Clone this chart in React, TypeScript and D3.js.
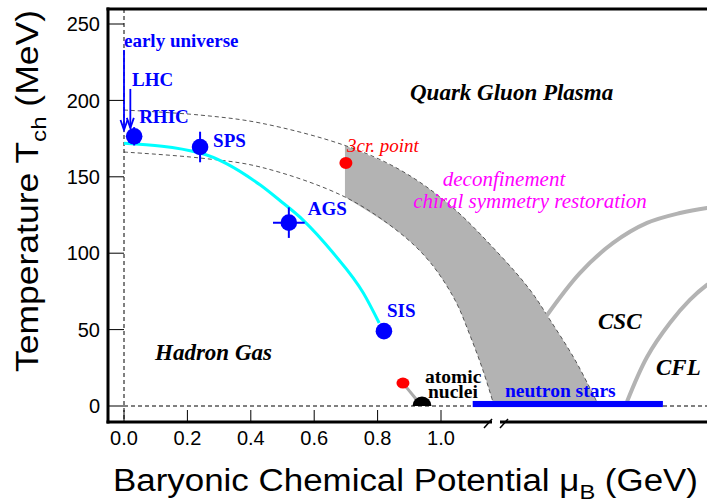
import React from "react";
import * as d3 from "d3";

// ---------- data ----------
const yTicks = [0, 50, 100, 150, 200, 250];
const xTicks = [0, 0.2, 0.4, 0.6, 0.8, 1.0];
const xTickLabels = ["0.0", "0.2", "0.4", "0.6", "0.8", "1.0"];

// chemical freeze-out curve
const freezeoutMu = [0, 0.24, 0.43, 0.49, 0.565, 0.66, 0.755, 0.805];
const freezeoutT = [172, 165.6, 144.6, 134.8, 121.7, 100.1, 73.9, 54.3];

// experiments
const expNames = ["RHIC", "SPS", "AGS", "SIS"];
const expMu = [0.032, 0.24, 0.52, 0.82];
const expT = [176.5, 169.5, 120, 49];
const expErrT = [6, 10, 10, 0];
const expErrMu = [0, 0, 0.05, 0];

// phase boundary band (upper / lower)
const upperMu = [0, 0.24, 0.43, 0.697, 0.871, 1.028, 1.186, 1.281, 1.344, 1.423, 1.492];
const upperT = [193.7, 190.4, 185.2, 170.5, 154.5, 131.5, 98.8, 75.9, 56.3, 30.1, 2.6];
const lowerMu = [0, 0.24, 0.43, 0.697, 0.871, 0.965, 1.044, 1.091, 1.132, 1.164];
const lowerT = [166.2, 162.3, 156.4, 136.8, 113.2, 94.2, 69.4, 46.5, 23.6, 2.6];
const bandStartIndex = 3;

// critical point
const critMu = 0.7;
const critT = 159;

// colour-superconducting boundaries
const cscMu = [1.328, 1.438, 1.543, 1.65, 1.754, 1.839, 1.9];
const cscT = [57.6, 87.0, 106.7, 119.8, 126.3, 129.6, 131];
const cflMu = [1.587, 1.65, 1.722, 1.785, 1.839, 1.9];
const cflT = [3, 32.1, 54.3, 69.4, 79.2, 87];

// atomic nuclei / neutron stars
const nucleiMu = 0.94;
const nucleiRedMu = 0.88;
const nucleiRedT = 15;
const neutronStarMu = [1.1, 1.7];

// arrows: early universe and LHC
const arrowMu = [0, 0.02];
const arrowTopT = [233, 207.5];
const arrowTipT = [180.6, 182];

const sans = "'Liberation Sans', Arial, Helvetica, sans-serif";
const serif = "'Liberation Serif', 'Times New Roman', Times, serif";

type P = [number, number];
const zip = (a: number[], b: number[]): P[] => a.map((v, i) => [v, b[i]] as P);

export default function App() {
  const x = d3.scaleLinear().domain([0, 1]).range([124, 441]);
  const y = d3.scaleLinear().domain([0, 250]).range([406, 24]);
  const line = d3
    .line<P>()
    .x((d) => x(d[0]))
    .y((d) => y(d[1]))
    .curve(d3.curveCatmullRom.alpha(0.5));

  const upper = zip(upperMu, upperT);
  const lower = zip(lowerMu, lowerT);
  const upperSeg = upper.slice(bandStartIndex);
  const lowerSegRev = lower.slice(bandStartIndex).reverse();
  const bandPath =
    (line(upperSeg) as string) + "L" + (line(lowerSegRev) as string).slice(1) + "Z";

  const left = 108;
  const top = 9;
  const bottom = 422;
  const right = 707;
  const breakX = 492;
  const breakX2 = 500;

  const labelDx = [5, 13, 19, 3];
  const labelDy = [-13, 0, -8, -14];

  const nsY0 = y(3.3);
  const nsY1 = y(-0.7);

  return (
    <svg
      width={707}
      height={502}
      style={{ position: "absolute", left: 0, top: 0, background: "#fff" }}
    >
      <rect x={0} y={0} width={707} height={502} fill="#fff" />

      {/* gray band */}
      <path d={bandPath} fill="#b3b3b3" stroke="none" />
      {/* dashed boundaries */}
      <path d={line(upper) as string} fill="none" stroke="#555" strokeWidth={1} strokeDasharray="4,3" />
      <path d={line(lower) as string} fill="none" stroke="#555" strokeWidth={1} strokeDasharray="4,3" />

      {/* CSC / CFL lines */}
      <path d={line(zip(cscMu, cscT)) as string} fill="none" stroke="#b3b3b3" strokeWidth={4} />
      <path d={line(zip(cflMu, cflT)) as string} fill="none" stroke="#b3b3b3" strokeWidth={4} />

      {/* reference dashed lines */}
      <line x1={x(0)} x2={x(0)} y1={top} y2={bottom} stroke="#000" strokeWidth={1} strokeDasharray="4,3" />
      <line x1={x(0)} x2={right} y1={y(0)} y2={y(0)} stroke="#000" strokeWidth={1} strokeDasharray="4,3" />

      {/* freeze-out curve */}
      <path
        d={d3.line<P>().x((d) => x(d[0])).y((d) => y(d[1])).curve(d3.curveMonotoneX)(zip(freezeoutMu, freezeoutT)) as string}
        fill="none"
        stroke="#00ffff"
        strokeWidth={3}
      />

      {/* neutron stars */}
      <rect
        x={x(neutronStarMu[0])}
        y={nsY0}
        width={x(neutronStarMu[1]) - x(neutronStarMu[0])}
        height={nsY1 - nsY0}
        fill="#0000ff"
      />

      {/* atomic nuclei */}
      <line
        x1={x(nucleiRedMu)}
        y1={y(nucleiRedT)}
        x2={x(nucleiMu) - 6}
        y2={y(0) - 7}
        stroke="#aaa"
        strokeWidth={3}
      />
      <path
        d={`M${x(nucleiMu) - 9.5},${y(0)} A9.5,9.5 0 0 1 ${x(nucleiMu) + 9.5},${y(0)} Z`}
        fill="#000"
      />
      <ellipse cx={x(nucleiRedMu)} cy={y(nucleiRedT)} rx={6.5} ry={5.5} fill="#ff0000" />

      {/* critical point */}
      <ellipse cx={x(critMu)} cy={y(critT)} rx={6.5} ry={6} fill="#ff0000" />

      {/* experiments */}
      {expNames.map((n, i) => (
        <g key={n}>
          {expErrT[i] > 0 && (
            <line
              x1={x(expMu[i])}
              x2={x(expMu[i])}
              y1={y(expT[i] + expErrT[i])}
              y2={y(expT[i] - expErrT[i])}
              stroke="#0000ff"
              strokeWidth={2}
            />
          )}
          {expErrMu[i] > 0 && (
            <line
              x1={x(expMu[i] - expErrMu[i])}
              x2={x(expMu[i] + expErrMu[i])}
              y1={y(expT[i])}
              y2={y(expT[i])}
              stroke="#0000ff"
              strokeWidth={2}
            />
          )}
          <circle cx={x(expMu[i])} cy={y(expT[i])} r={8.3} fill="#0000ff" />
          <text
            x={x(expMu[i]) + labelDx[i]}
            y={y(expT[i]) + labelDy[i]}
            fontFamily={serif}
            fontWeight="bold"
            fontSize={19}
            fill="#0000ff"
          >
            {n}
          </text>
        </g>
      ))}

      {/* arrows */}
      {arrowMu.map((m, i) => {
        const ax = x(m);
        const tip = y(arrowTipT[i]);
        return (
          <g key={i} stroke="#0000ff" strokeWidth={1.8} fill="none">
            <line x1={ax} x2={ax} y1={y(arrowTopT[i])} y2={tip} />
            <polyline points={`${ax - 3.5},${tip - 10} ${ax},${tip} ${ax + 3.5},${tip - 10}`} />
          </g>
        );
      })}
      <text x={x(0)} y={47} fontFamily={serif} fontWeight="bold" fontSize={19} fill="#0000ff">
        early universe
      </text>
      <text x={132} y={86} fontFamily={serif} fontWeight="bold" fontSize={19} fill="#0000ff">
        LHC
      </text>

      {/* region labels */}
      <text x={410} y={100} fontFamily={serif} fontWeight="bold" fontStyle="italic" fontSize={23} fill="#000">
        Quark Gluon Plasma
      </text>
      <text x={155} y={360} fontFamily={serif} fontWeight="bold" fontStyle="italic" fontSize={23} fill="#000">
        Hadron Gas
      </text>
      <text x={598} y={329} fontFamily={serif} fontWeight="bold" fontStyle="italic" fontSize={23} fill="#000">
        CSC
      </text>
      <text x={656} y={375} fontFamily={serif} fontWeight="bold" fontStyle="italic" fontSize={23} fill="#000">
        CFL
      </text>
      <text x={347} y={152} fontFamily={serif} fontStyle="italic" fontSize={19} fill="#ff0000">
        3cr. point
      </text>
      <text x={504} y={186} textAnchor="middle" fontFamily={serif} fontStyle="italic" fontSize={21} fill="#ff00ff">
        deconfinement
      </text>
      <text x={530} y={208} textAnchor="middle" fontFamily={serif} fontStyle="italic" fontSize={21} fill="#ff00ff">
        chiral symmetry restoration
      </text>
      <text x={505} y={397} fontFamily={serif} fontWeight="bold" fontSize={19.5} fill="#0000ff">
        neutron stars
      </text>
      <text x={425} y={383} fontFamily={serif} fontWeight="bold" fontSize={19.5} fill="#000">
        atomic
      </text>
      <text x={428} y={398} fontFamily={serif} fontWeight="bold" fontSize={19.5} fill="#000">
        nuclei
      </text>

      {/* axes frame */}
      <line x1={left} x2={left} y1={top - 1.5} y2={bottom + 1.5} stroke="#000" strokeWidth={3} />
      <line x1={left - 1.5} x2={right} y1={top} y2={top} stroke="#000" strokeWidth={3} />
      <line x1={left - 1.5} x2={breakX} y1={bottom} y2={bottom} stroke="#000" strokeWidth={3} />
      <line x1={breakX2} x2={right} y1={bottom} y2={bottom} stroke="#000" strokeWidth={3} />
      <line x1={breakX - 8} y1={bottom + 6} x2={breakX} y2={bottom - 3} stroke="#000" strokeWidth={1.5} />
      <line x1={breakX2} y1={bottom + 6} x2={breakX2 + 8} y2={bottom - 3} stroke="#000" strokeWidth={1.5} />

      {/* y ticks */}
      {yTicks.map((t) => (
        <g key={t}>
          <line x1={left} x2={x(0)} y1={y(t)} y2={y(t)} stroke="#000" strokeWidth={1} />
          <text
            x={100}
            y={y(t)}
            dy="0.36em"
            textAnchor="end"
            fontFamily={sans}
            fontSize={20}
            fill="#000"
          >
            {t}
          </text>
        </g>
      ))}
      {/* x ticks */}
      {xTicks.map((t, i) => (
        <g key={t}>
          <line x1={x(t)} x2={x(t)} y1={bottom} y2={bottom - 12} stroke="#000" strokeWidth={1} />
          <text x={x(t)} y={445} textAnchor="middle" fontFamily={sans} fontSize={20} fill="#000">
            {xTickLabels[i]}
          </text>
        </g>
      ))}

      {/* axis titles */}
      <text
        x={113}
        y={491}
        fontFamily={sans}
        fontSize={31}
        fill="#000"
        textLength={585}
        lengthAdjust="spacingAndGlyphs"
      >
        Baryonic Chemical Potential μ
        <tspan fontSize={21} dy={8}>B</tspan>
        <tspan dy={-8}> (GeV)</tspan>
      </text>
      <text
        transform="translate(38,372) rotate(-90)"
        x={0}
        y={0}
        fontFamily={sans}
        fontSize={31}
        fill="#000"
        textLength={362}
        lengthAdjust="spacingAndGlyphs"
      >
        Temperature T
        <tspan fontSize={21} dy={8}>ch</tspan>
        <tspan dy={-8}> (MeV)</tspan>
      </text>
    </svg>
  );
}
